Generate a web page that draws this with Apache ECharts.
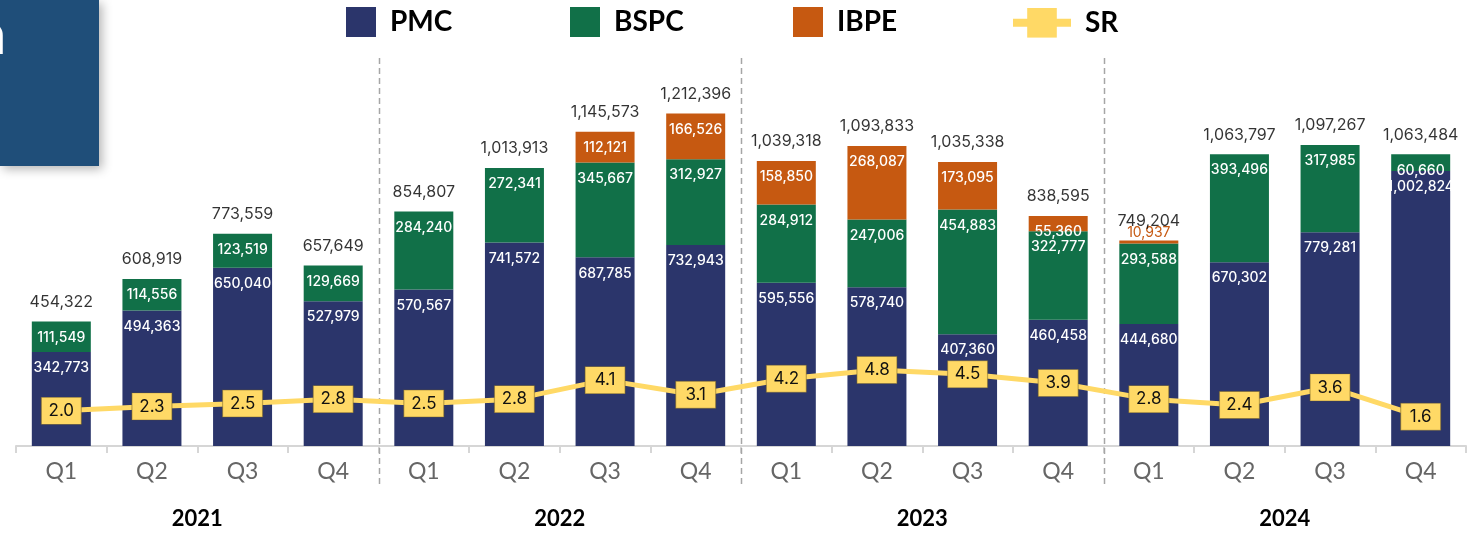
<!DOCTYPE html>
<html>
<head>
<meta charset="utf-8">
<script src="https://cdn.jsdelivr.net/npm/echarts@6/dist/echarts.min.js"></script>
<style>
  html, body { margin: 0; padding: 0; background: #fff; }
  #chart { width: 1468px; height: 534px; }
</style>
</head>
<body>
<div id="chart"></div>
<script>
// data
const years = ['2021', '2022', '2023', '2024']
const quarters = ['Q1', 'Q2', 'Q3', 'Q4']
const pmc = [342773, 494363, 650040, 527979, 570567, 741572, 687785, 732943,
  595556, 578740, 407360, 460458, 444680, 670302, 779281, 1002824]
const bspc = [111549, 114556, 123519, 129669, 284240, 272341, 345667, 312927,
  284912, 247006, 454883, 322777, 293588, 393496, 317985, 60660]
const ibpe = [null, null, null, null, null, null, 112121, 166526,
  158850, 268087, 173095, 55360, 10937, null, null, null]
const totals = [454322, 608919, 773559, 657649, 854807, 1013913, 1145573, 1212396,
  1039318, 1093833, 1035338, 838595, 749204, 1063797, 1097267, 1063484]
const sr = [2.0, 2.3, 2.5, 2.8, 2.5, 2.8, 4.1, 3.1, 4.2, 4.8, 4.5, 3.9, 2.8, 2.4, 3.6, 1.6]

const categories = years.flatMap(y => quarters.map(q => y + ' ' + q))

const navy = '#2B356B'
const green = '#117048'
const orange = '#C65911'
const yellow = '#FFD966'
const numFont = 'Inter, "Open Sans", sans-serif'
const fmt = v => Number(v).toLocaleString('en-US')

const segLabel = {
  show: true,
  position: 'insideTop',
  distance: 9,
  color: '#fff',
  fontFamily: numFont,
  fontSize: 14,
  fontWeight: 500,
  formatter: p => fmt(p.value),
}

// the tiny IBPE slice in 2024 Q1 has its label above it, in orange
const ibpeData = ibpe.map((v, i) =>
  i === 12
    ? { value: v, label: { position: 'top', distance: 1, color: orange, fontWeight: 400 } }
    : v)

const legendText = {
  padding: [0, 0, 0, 9],
  color: '#000',
  fontFamily: 'Lato',
  fontWeight: 'bold',
  fontSize: 28,
}
// one legend per item so the spacing follows the picture
const barLegend = (name, left) => ({
  left: left,
  top: 7,
  padding: 0,
  icon: 'rect',
  itemWidth: 30,
  itemHeight: 30,
  data: [name],
  textStyle: legendText,
})

let chart = echarts.init(document.getElementById('chart'))
chart.setOption({
  animation: false,
  legend: [
    barLegend('PMC', 346),
    barLegend('BSPC', 570),
    barLegend('IBPE', 793),
    {
      left: 1009,
      top: 8,
      padding: 0,
      itemWidth: 58,
      itemHeight: 37,
      data: ['SR'],
      lineStyle: { width: 8 },
      itemStyle: { borderWidth: 0 },
      textStyle: legendText,
    },
  ],
  grid: { left: 16, right: 2, top: 62, bottom: 88 },
  xAxis: [
    {
      type: 'category',
      data: categories,
      position: 'bottom',
      axisLine: { lineStyle: { color: '#D6D6D6', width: 2 } },
      axisTick: { show: true, interval: 0, length: 7, lineStyle: { color: '#D6D6D6', width: 2 } },
      axisLabel: {
        interval: 0,
        margin: 14,
        color: '#666',
        fontFamily: 'Lato',
        fontSize: 23,
        formatter: v => v.split(' ')[1],
      },
    },
    {
      type: 'category',
      data: years,
      position: 'bottom',
      axisLine: { show: false },
      axisTick: { show: false },
      axisLabel: {
        interval: 0,
        margin: 62,
        color: '#000',
        fontFamily: 'Lato',
        fontWeight: 'bold',
        fontSize: 22,
      },
    },
  ],
  yAxis: [
    { type: 'value', show: false, min: 0, max: 1400000, splitLine: { show: false } },
    { type: 'value', show: false, min: -0.41, max: 25.89, splitLine: { show: false } },
  ],
  series: [
    {
      name: 'PMC',
      type: 'bar',
      stack: 'q',
      barWidth: 59,
      itemStyle: { color: navy },
      label: segLabel,
      data: pmc,
    },
    {
      name: 'BSPC',
      type: 'bar',
      stack: 'q',
      barWidth: 59,
      itemStyle: { color: green },
      label: segLabel,
      data: bspc,
    },
    {
      name: 'IBPE',
      type: 'bar',
      stack: 'q',
      barWidth: 59,
      itemStyle: { color: orange },
      label: segLabel,
      data: ibpeData,
    },
    {
      name: 'Total',
      type: 'scatter',
      symbolSize: 1,
      itemStyle: { color: 'rgba(0,0,0,0)' },
      label: {
        show: true,
        position: 'top',
        distance: 11,
        color: '#000',
        fontFamily: numFont,
        fontSize: 16,
        formatter: p => fmt(p.value),
      },
      data: totals,
      z: 4,
    },
    {
      name: 'SR',
      type: 'line',
      yAxisIndex: 1,
      symbol: 'rect',
      symbolSize: [40, 27],
      lineStyle: { color: yellow, width: 5 },
      itemStyle: { color: yellow, borderColor: 'rgba(110,90,30,0.45)', borderWidth: 1 },
      label: {
        show: true,
        position: 'inside',
        color: '#111',
        fontFamily: numFont,
        fontSize: 17,
        formatter: p => p.value.toFixed(1),
      },
      data: sr,
      z: 5,
    },
  ],
})

// year separators between Q4 and Q1, placed from the category axis
const px = i => chart.convertToPixel({ xAxisIndex: 0 }, i)
const seps = [4, 8, 12].map(i => {
  const x = Math.round((px(i - 1) + px(i)) / 2) + 0.5
  return {
    type: 'line',
    shape: { x1: x, y1: 58, x2: x, y2: 487 },
    style: { stroke: '#A6A6A6', lineWidth: 1.5, lineDash: [6, 4] },
    z: 1,
  }
})

chart.setOption({
  graphic: [
    // the title box cut off at the top left
    {
      type: 'rect',
      shape: { x: 0, y: 0, width: 99, height: 166 },
      style: { fill: '#1F4E79', shadowBlur: 10, shadowColor: 'rgba(0,0,0,0.3)', shadowOffsetX: 3, shadowOffsetY: 3 },
      z: 10,
    },
    {
      type: 'text',
      style: { x: 6, y: 64, text: 'n', fill: '#fff', font: 'bold 58px Lato', align: 'right', verticalAlign: 'bottom' },
      z: 11,
    },
    ...seps,
  ],
})
</script>
</body>
</html>
